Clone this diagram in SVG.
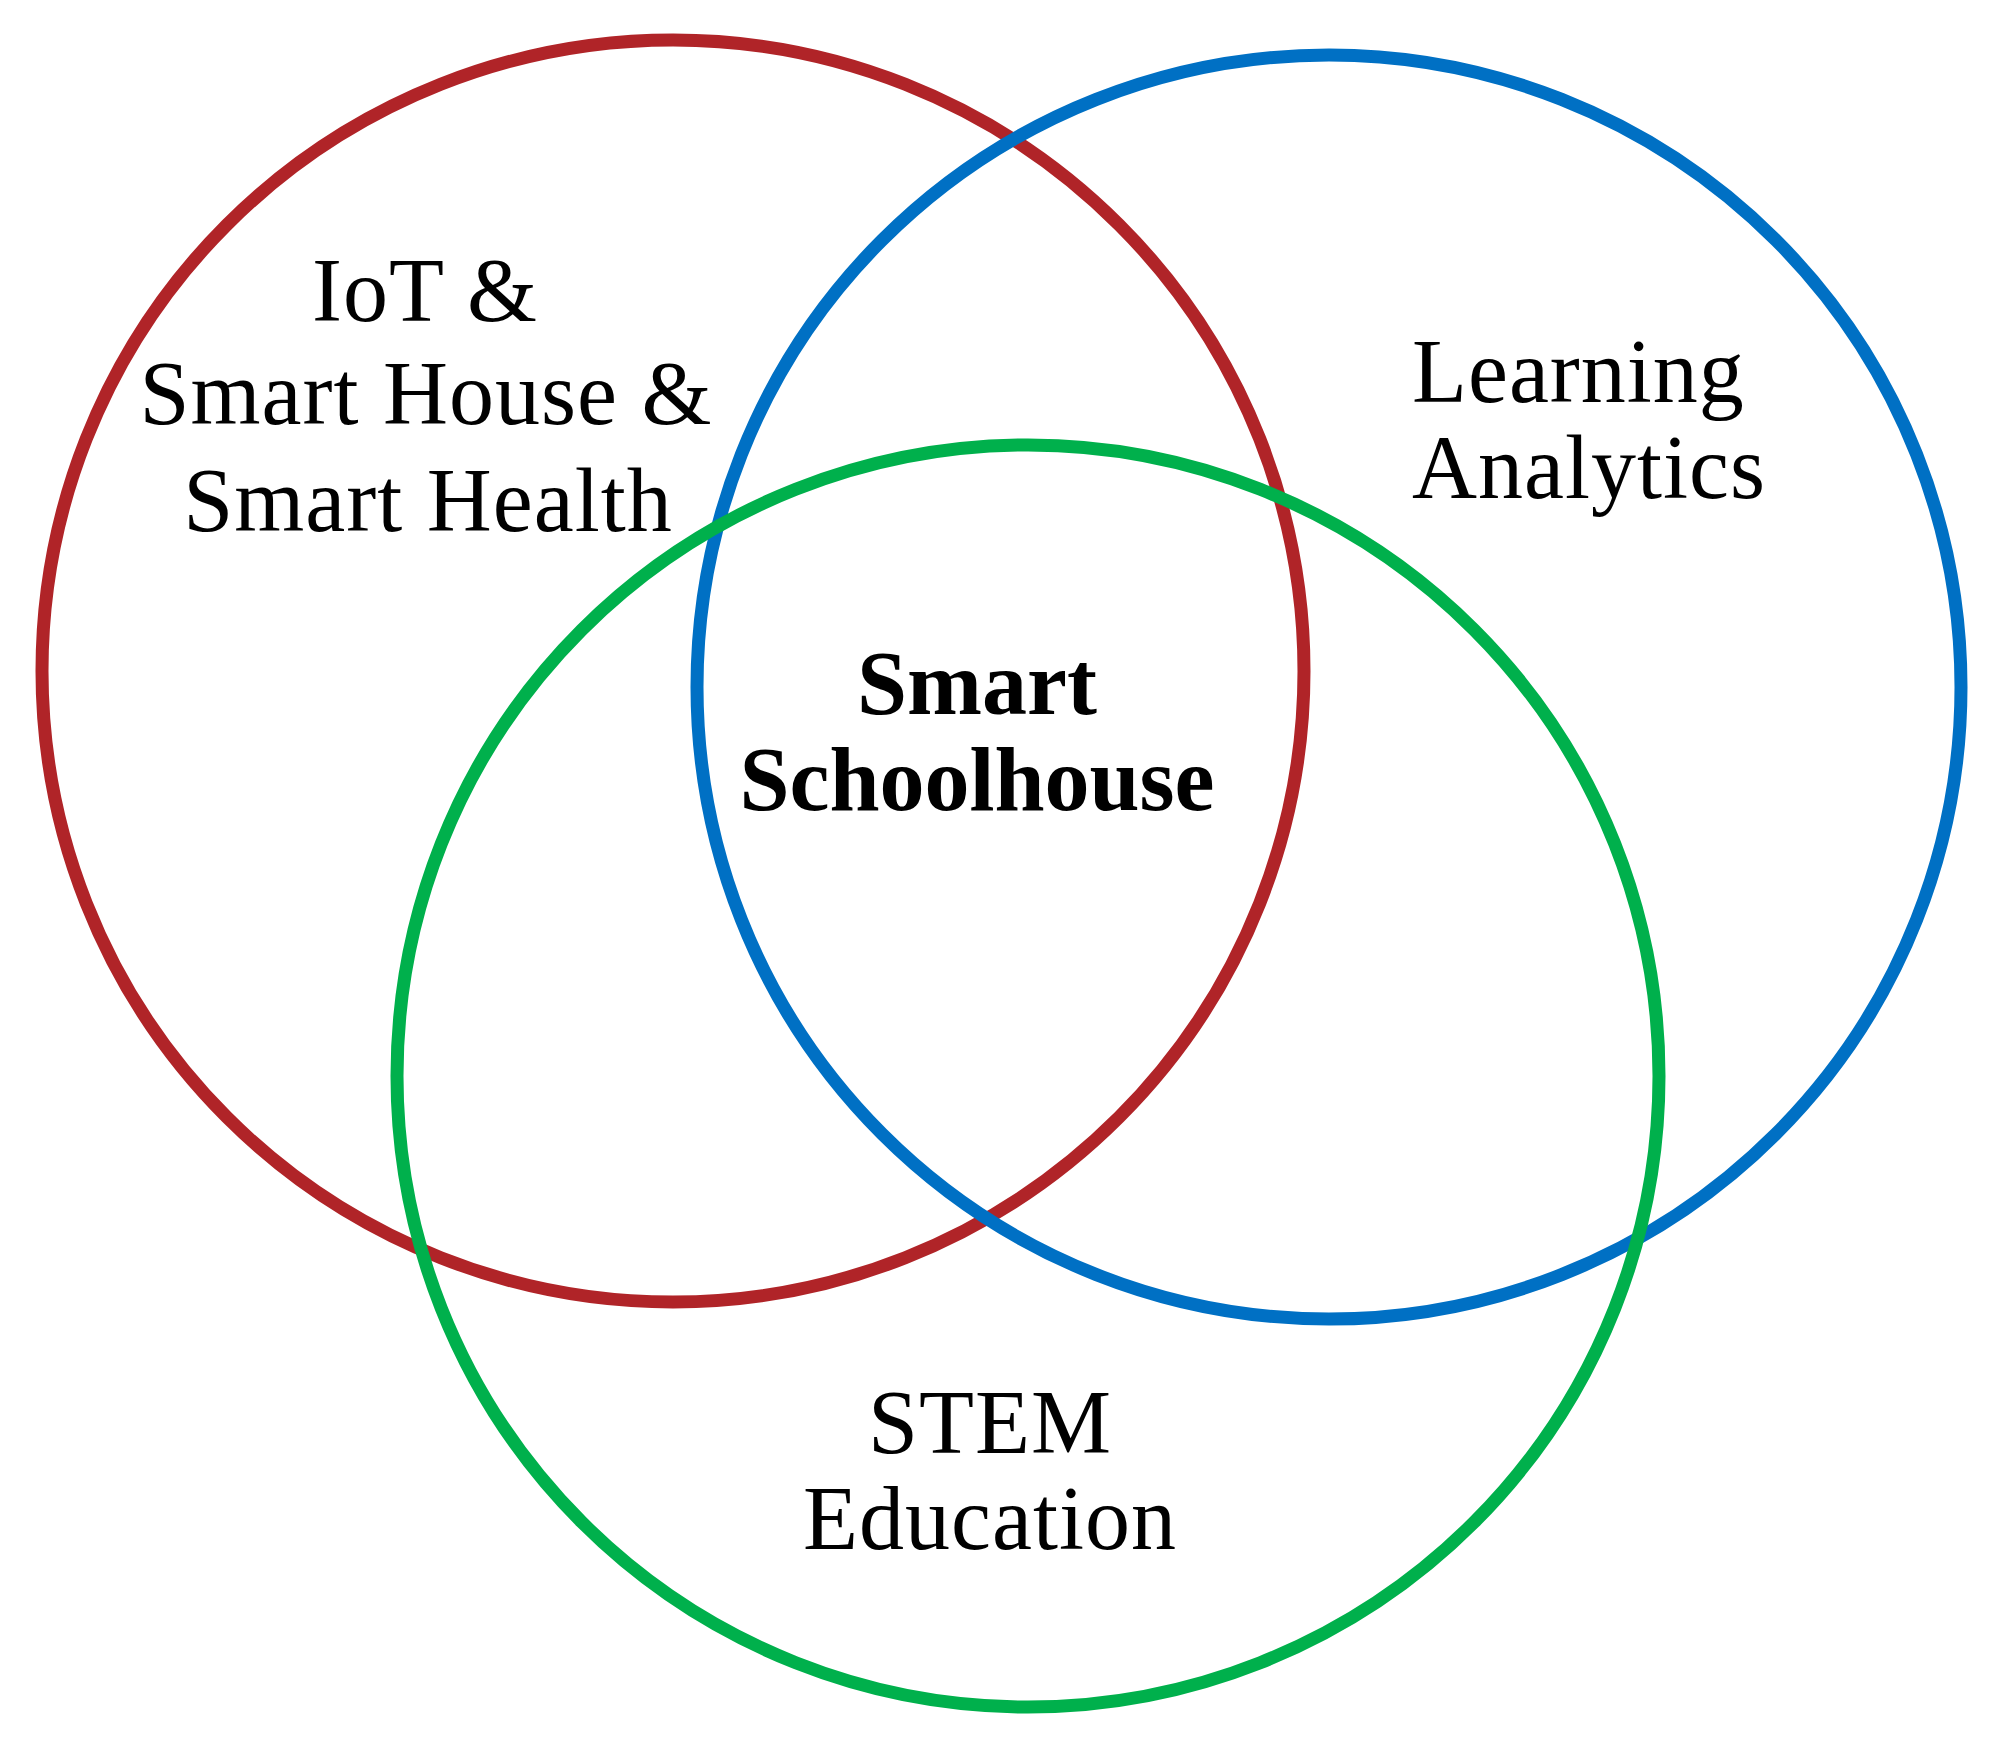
<svg xmlns="http://www.w3.org/2000/svg" width="1994" height="1745" viewBox="0 0 1994 1745">
<style>
.c{fill:none;stroke-width:13}
.t{font-family:"Liberation Serif","Times New Roman",serif;font-size:90px;fill:#000;letter-spacing:1px}
.b{font-weight:bold;letter-spacing:0}
</style>
<rect width="1994" height="1745" fill="#fff"/>
<g id="circle-iot">
<circle class="c" cx="673" cy="671" r="631" stroke="#B02428"/>
</g>
<g id="circle-la">
<circle class="c" cx="1329" cy="687" r="632" stroke="#0070C4"/>
</g>
<g id="circle-stem">
<circle class="c" cx="1028" cy="1076" r="631" stroke="#00B04C"/>
</g>
<g id="label-iot" class="t" text-anchor="middle">
<text x="425" y="321">IoT &amp;</text>
<text x="426" y="424">Smart House &amp;</text>
<text x="428" y="531">Smart Health</text>
</g>
<g id="label-la" class="t">
<text x="1412" y="402">Learning</text>
<text x="1412" y="498">Analytics</text>
</g>
<g id="label-center" class="t b" text-anchor="middle">
<text x="977" y="714">Smart</text>
<text x="977" y="810">Schoolhouse</text>
</g>
<g id="label-stem" class="t" text-anchor="middle">
<text x="990" y="1453">STEM</text>
<text x="990" y="1549">Education</text>
</g>
<g id="connectors"/>
</svg>
